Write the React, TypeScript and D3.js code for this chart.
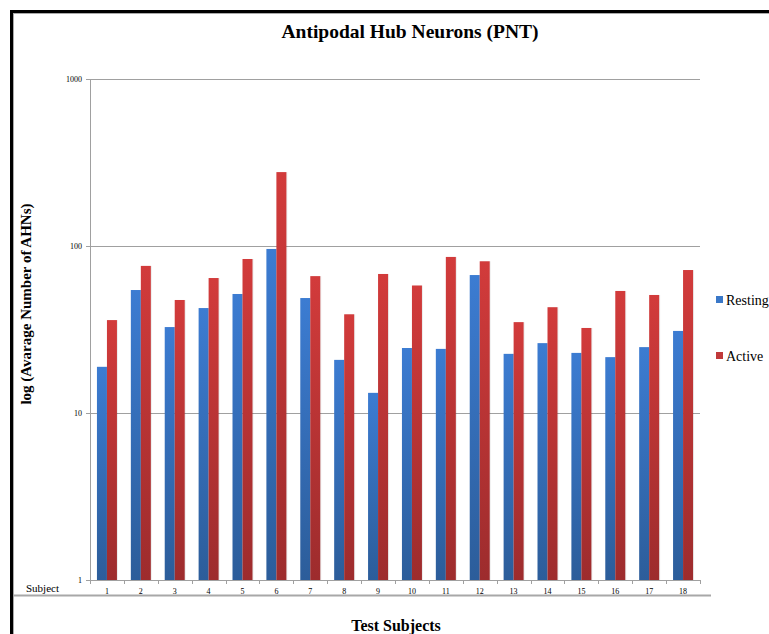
import React from "react";
import * as d3 from "d3";

const subjects = ["1","2","3","4","5","6","7","8","9","10","11","12","13","14","15","16","17","18"];
const resting = [18.9, 54.5, 32.7, 42.5, 51.6, 96, 48.8, 20.8, 13.2, 24.5, 24.2, 67, 22.6, 26.2, 22.9, 21.6, 24.8, 31];
const active = [36, 76, 47.5, 64.3, 83.6, 277, 66, 39, 68, 58, 86, 81, 35, 43, 32.3, 53.8, 50.9, 71.8];
const yTicks = [1, 10, 100, 1000];
const seriesNames = ["Resting", "Active"];

const W = 769, H = 634;
const left = 90, right = 700, top = 79, bottom = 580;
const font = "'Liberation Serif', 'Times New Roman', serif";

export default function App() {
  const x = d3.scaleBand<string>().domain(subjects).range([left, right]).padding(0);
  const y = d3.scaleLog().domain([1, 1000]).range([bottom, top]);
  const bw = x.bandwidth() * 0.295;
  const series = [resting, active];
  const fills = ["url(#gBlue)", "url(#gRed)"];
  const legendColors = ["#3a78c8", "#c0393a"];

  return (
    <svg width={W} height={H} style={{ position: "absolute", left: 0, top: 0, background: "#fff" }} fontFamily={font}>
      <defs>
        <linearGradient id="gBlue" x1="0" y1="0" x2="0" y2="1" gradientUnits="objectBoundingBox">
          <stop offset="0" stopColor="#3c7cd2" />
          <stop offset="1" stopColor="#2c5d9a" />
        </linearGradient>
        <linearGradient id="gRed" x1="0" y1="0" x2="0" y2="1">
          <stop offset="0" stopColor="#d23b3b" />
          <stop offset="1" stopColor="#9d2c2d" />
        </linearGradient>
      </defs>
      {/* frame */}
      <line x1={11.5} y1={11} x2={11.5} y2={H} stroke="#000" strokeWidth={3} />
      <line x1={10} y1={11.5} x2={W} y2={11.5} stroke="#000" strokeWidth={3} />
      <line x1={13.5} y1={13} x2={13.5} y2={H} stroke="#aaa" strokeWidth={1} />
      <line x1={13} y1={13.5} x2={W} y2={13.5} stroke="#aaa" strokeWidth={1} />
      <line x1={13} y1={595.5} x2={711} y2={595.5} stroke="#a8a8a8" strokeWidth={2} />

      <text x={410} y={38} textAnchor="middle" fontSize={19.5} fontWeight="bold">Antipodal Hub Neurons (PNT)</text>

      {/* gridlines */}
      {yTicks.slice(1).map((t) => (
        <line key={t} x1={left} x2={right} y1={Math.round(y(t)) + 0.5} y2={Math.round(y(t)) + 0.5} stroke="#a0a0a0" strokeWidth={1} />
      ))}
      {/* y axis */}
      <line x1={left + 0.5} x2={left + 0.5} y1={top} y2={bottom} stroke="#a0a0a0" />
      {yTicks.map((t) => (
        <g key={t}>
          <line x1={left - 4} x2={left} y1={Math.round(y(t)) + 0.5} y2={Math.round(y(t)) + 0.5} stroke="#a0a0a0" />
          <text x={left - 8} y={y(t) + 3} textAnchor="end" fontSize={8}>{t}</text>
        </g>
      ))}

      {/* bars */}
      {series.map((vals, si) =>
        vals.map((v, i) => {
          const cx = (x(subjects[i]) as number) + x.bandwidth() / 2;
          const bx = cx - bw + si * bw;
          return (
            <g key={si + "-" + i}>
              <rect x={bx + 1} y={y(v)} width={bw} height={bottom - y(v)} fill="#000" opacity={0.08} />
              <rect x={bx} y={y(v)} width={bw} height={bottom - y(v)} fill={fills[si]} />
            </g>
          );
        })
      )}

      {/* x axis */}
      <line x1={left} x2={right} y1={bottom + 0.5} y2={bottom + 0.5} stroke="#a0a0a0" />
      {subjects.map((s, i) => (
        <g key={s}>
          <line x1={Math.round((x(s) as number) + x.bandwidth()) + 0.5} x2={Math.round((x(s) as number) + x.bandwidth()) + 0.5} y1={bottom} y2={bottom + 4} stroke="#a0a0a0" />
          {i === 0 && <line x1={left + 0.5} x2={left + 0.5} y1={bottom} y2={bottom + 4} stroke="#a0a0a0" />}
          <text x={(x(s) as number) + x.bandwidth() / 2} y={bottom + 14} textAnchor="middle" fontSize={8}>{s}</text>
        </g>
      ))}
      <text x={26} y={592} fontSize={11}>Subject</text>

      <text x={396} y={631} textAnchor="middle" fontSize={16} fontWeight="bold">Test Subjects</text>
      <text transform={`translate(31,${304}) rotate(-90)`} textAnchor="middle" fontSize={15} fontWeight="bold">log (Avarage Number of AHNs)</text>

      {/* legend */}
      {seriesNames.map((n, i) => (
        <g key={n}>
          <rect x={716} y={296 + i * 56} width={7} height={7} fill={legendColors[i]} />
          <text x={726} y={305 + i * 56} fontSize={14}>{n}</text>
        </g>
      ))}
    </svg>
  );
}
